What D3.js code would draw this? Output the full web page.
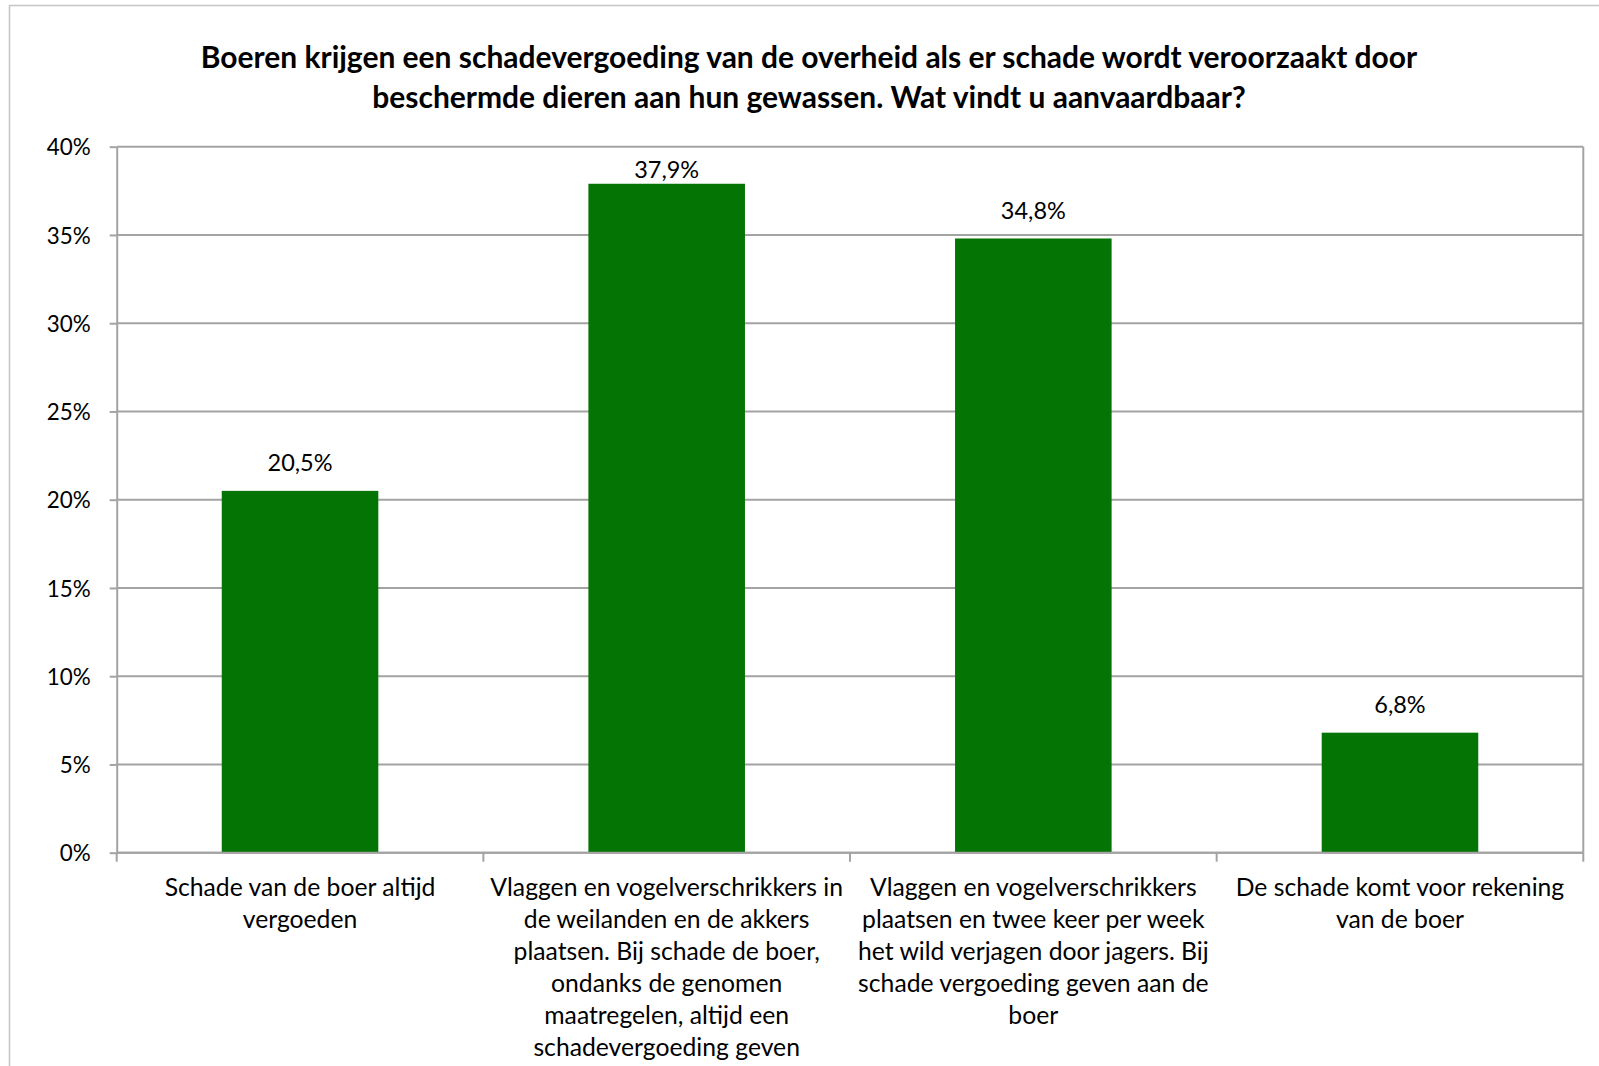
<!DOCTYPE html>
<html>
<head>
<meta charset="utf-8">
<script src="https://cdn.jsdelivr.net/npm/d3@7"></script>
<style>
  html, body { margin: 0; padding: 0; background: #fff; }
  svg { display: block; }
</style>
</head>
<body>
<script>
// ---- data ----
const titleLines = [
  "Boeren krijgen een schadevergoeding van de overheid als er schade wordt veroorzaakt door",
  "beschermde dieren aan hun gewassen. Wat vindt u aanvaardbaar?"
];
const categories = [
  "Schade van de boer altijd\nvergoeden",
  "Vlaggen en vogelverschrikkers in\nde weilanden en de akkers\nplaatsen. Bij schade de boer,\nondanks de genomen\nmaatregelen, altijd een\nschadevergoeding geven",
  "Vlaggen en vogelverschrikkers\nplaatsen en twee keer per week\nhet wild verjagen door jagers. Bij\nschade vergoeding geven aan de\nboer",
  "De schade komt voor rekening\nvan de boer"
];
const values = [0.205, 0.379, 0.348, 0.068];
const valueLabels = ["20,5%", "37,9%", "34,8%", "6,8%"];
const yTicks = [0, 0.05, 0.10, 0.15, 0.20, 0.25, 0.30, 0.35, 0.40];

// ---- layout ----
const W = 1599, H = 1066;
const FONT = "Lato, 'Open Sans', sans-serif";
const plot = { left: 116.7, right: 1583.3, top: 146.7, bottom: 852.7 };
const gridColor = "#a3a3a3";
const barColor = "#047404";

const svg = d3.select("body").append("svg").attr("width", W).attr("height", H);

// font-size fitting helper: measure at 100px and scale to target width
function fitSize(text, weight, target) {
  const t = svg.append("text").attr("font-family", FONT).attr("font-weight", weight)
    .attr("font-size", 100).text(text);
  const w = t.node().getComputedTextLength();
  t.remove();
  return 100 * target / w;
}

const titleSize = fitSize(titleLines[0], "bold", 1217);
const catSize = fitSize("Schade van de boer altijd", "normal", 271);
const tickSize = fitSize("40%", "normal", 44);
const valSize = fitSize("37,9%", "normal", 65);

// outer border
svg.append("rect").attr("x", 9.5).attr("y", 5.5).attr("width", W + 20).attr("height", H + 20)
  .attr("fill", "none").attr("stroke", "#c4c4c4").attr("stroke-width", 1.5);

// title
const title = svg.append("text").attr("font-family", FONT).attr("font-weight", "bold")
  .attr("font-size", titleSize).attr("text-anchor", "middle").attr("fill", "#000");
titleLines.forEach((l, i) => {
  title.append("tspan").attr("x", 809).attr("y", 68 + i * 39.5).text(l);
});

// scales
const y = d3.scaleLinear().domain([0, 0.4]).range([plot.bottom, plot.top]);
const x = d3.scaleBand().domain(categories).range([plot.left, plot.right])
  .paddingInner(0.573).paddingOuter(0.2865);

// gridlines
const grid = svg.append("g");
grid.selectAll("line").data(yTicks).join("line")
  .attr("x1", plot.left).attr("x2", plot.right)
  .attr("y1", d => y(d)).attr("y2", d => y(d))
  .attr("stroke", gridColor).attr("stroke-width", 2);

// right border of plot
svg.append("line").attr("x1", plot.right).attr("x2", plot.right)
  .attr("y1", plot.top).attr("y2", plot.bottom)
  .attr("stroke", gridColor).attr("stroke-width", 2);

// bars
svg.append("g").selectAll("rect").data(values).join("rect")
  .attr("x", (d, i) => x(categories[i]))
  .attr("width", x.bandwidth())
  .attr("y", d => y(d))
  .attr("height", d => y(0) - y(d))
  .attr("fill", barColor);

// value labels (kept inside the plot area, as the original does)
svg.append("g").selectAll("text").data(values).join("text")
  .attr("x", (d, i) => x(categories[i]) + x.bandwidth() / 2)
  .attr("y", d => Math.max(y(d) - 19.5, plot.top + 31.3))
  .attr("text-anchor", "middle")
  .attr("font-family", FONT).attr("font-size", valSize).attr("fill", "#000")
  .text((d, i) => valueLabels[i]);

// y axis
const yAxis = svg.append("g").attr("transform", `translate(${plot.left},0)`)
  .call(d3.axisLeft(y).tickValues(yTicks).tickFormat(d3.format(".0%"))
    .tickSizeInner(7).tickSizeOuter(0).tickPadding(19));
yAxis.select(".domain").attr("stroke", gridColor).attr("stroke-width", 2);
yAxis.selectAll(".tick line").attr("stroke", gridColor).attr("stroke-width", 2);
yAxis.selectAll(".tick text").attr("font-family", FONT).attr("font-size", tickSize)
  .attr("fill", "#000").attr("dy", "0.36em");

// x axis (labels)
const xAxis = svg.append("g").attr("transform", `translate(0,${plot.bottom})`)
  .call(d3.axisBottom(x).tickSize(0).tickPadding(0));
xAxis.select(".domain").remove();
xAxis.selectAll(".tick text").each(function (d) {
  const t = d3.select(this);
  t.text(null).attr("font-family", FONT).attr("font-size", catSize)
    .attr("fill", "#000").attr("text-anchor", "middle").attr("y", 0).attr("dy", null);
  d.split("\n").forEach((line, i) => {
    t.append("tspan").attr("x", 0).attr("y", 43.5 + i * 32).text(line);
  });
});

// x baseline and boundary ticks
svg.append("line").attr("x1", plot.left).attr("x2", plot.right)
  .attr("y1", plot.bottom).attr("y2", plot.bottom)
  .attr("stroke", gridColor).attr("stroke-width", 2);
const bounds = d3.range(categories.length + 1).map(i => plot.left + i * x.step());
svg.append("g").selectAll("line").data(bounds).join("line")
  .attr("x1", d => d).attr("x2", d => d)
  .attr("y1", plot.bottom).attr("y2", plot.bottom + 9)
  .attr("stroke", gridColor).attr("stroke-width", 2);
</script>
</body>
</html>
